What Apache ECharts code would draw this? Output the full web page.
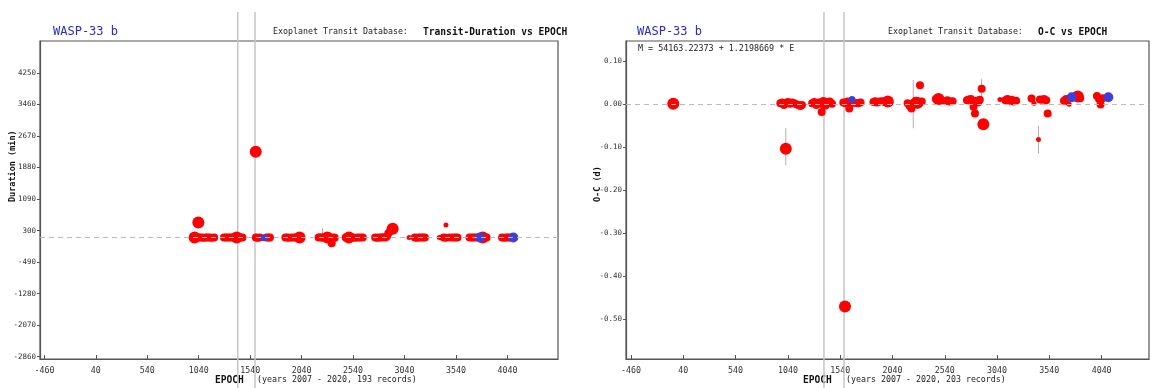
<!DOCTYPE html>
<html><head><meta charset="utf-8">
<script src="https://cdn.jsdelivr.net/npm/echarts@6/dist/echarts.min.js"></script>
<style>html,body{margin:0;padding:0;background:#fff}#c{width:1154px;height:388px}</style>
</head><body><div id="c"></div>
<script>
// ---------- tick labels ----------
const xTicks = [-460, 40, 540, 1040, 1540, 2040, 2540, 3040, 3540, 4040];
const durTicks = [-2860, -2070, -1280, -490, 300, 1090, 1880, 2670, 3460, 4250];
const ocTicks = [-0.5, -0.4, -0.3, -0.2, -0.1, 0.0, 0.1];

// ---------- Transit duration (min) vs epoch ----------
const durNormal = [
 [985,125],[1005,122],[1025,128],[1045,124],[1065,126],[1085,122],[1105,127],[1125,124],[1145,126],[1165,122],[1190,125],
 [1285,127],[1305,123],[1325,128],[1345,124],[1365,126],[1385,121],[1425,128],[1445,123],[1465,126],
 [1595,126],[1612,122],[1632,128],[1700,124],[1718,127],[1732,123],
 [1882,125],[1900,128],[1920,122],[1945,126],[1970,124],[2010,122],[2035,126],
 [2205,124],[2222,130],[2240,121],[2262,127],[2280,133],[2300,118],[2318,100],[2325,55],[2332,-17],[2350,125],[2362,118],
 [2468,128],[2488,124],[2510,131],[2535,125],[2560,122],[2585,127],[2610,124],[2635,126],
 [2755,126],[2775,122],[2795,128],[2815,124],[2835,130],[2855,126],[2870,160],[2883,232],[2900,285],
 [3140,125],[3160,122],[3180,128],[3200,124],[3220,127],[3238,123],
 [3420,126],[3440,122],[3480,128],[3510,124],[3535,127],[3555,123],
 [3672,126],[3692,123],[3712,128],[3732,124],[3755,126],[3825,124],[3838,127],
 [3988,125],[4008,122],[4028,127],[4048,124],[4068,126],[4085,123]
];
const durLarge = [[1000,127],[1036,500],[1409,126],[1594,2275],[2020,125],[2290,126],[2500,128],[2925,345],[3800,125]];
const durSmall = [[3085,125],[3378,125],[3443,442]];
const durBlueSmall = [[1675,118]];
const durBlueLarge = [[3774,126],[4098,126]];
const durErr = [[2243,125,360]];
const durRef = 125;
const durMarkers = [1419, 1587];

// ---------- O-C (d) vs epoch ----------
const ocNormal = [
 [968,0.002],[985,0.004],[1002,-0.002],[1020,0.003],[1040,0.005],[1060,0.001],[1080,0.004],[1100,0.002],[1120,0.000],[1140,-0.002],[1160,-0.004],[1175,-0.002],
 [1272,0.002],[1292,0.005],[1312,-0.002],[1332,0.004],[1363,-0.018],[1380,0.006],[1400,-0.003],[1420,0.002],[1440,0.006],[1462,0.001],
 [1570,0.004],[1590,0.002],[1610,0.006],[1627,-0.010],[1640,0.001],[1690,0.003],[1712,0.002],[1735,0.004],
 [1858,0.005],[1875,0.007],[1895,0.004],[1915,0.006],[1940,0.007],[1965,0.005],[1990,0.006],[2010,0.004],
 [2185,0.002],[2205,-0.004],[2222,-0.010],[2245,0.004],[2262,0.008],[2303,0.044],[2320,0.006],
 [2455,0.012],[2475,0.010],[2495,0.011],[2515,0.008],[2540,0.007],[2565,0.009],[2590,0.006],[2615,0.007],
 [2752,0.009],[2770,0.011],[2790,0.012],[2810,0.006],[2829,-0.022],[2815,-0.006],[2840,0.008],[2860,0.004],[2875,0.010],[2893,0.036],
 [3120,0.009],[3140,0.012],[3160,0.008],[3180,0.010],[3200,0.006],[3222,0.008],
 [3370,0.013],[3450,0.011],[3470,0.010],[3490,0.012],[3510,0.009],[3524,-0.022],
 [3680,0.008],[3700,0.012],[3800,0.020],[3820,0.018],[3835,0.014],
 [3995,0.019],[4015,0.012],[4030,-0.001],[4050,0.014]
];
const ocLarge = [[-56,0.001],[1020,-0.104],[1380,0.003],[1586,-0.471],[1995,0.006],[2280,0.003],[2480,0.012],[2909,-0.047],[3812,0.018]];
const ocSmall = [[3068,0.011],[3393,0.002],[3436,-0.082],[3730,0.000],[3715,0.003]];
const ocBlueSmall = [[1653,0.011]];
const ocBlueLarge = [[3754,0.016],[4104,0.016]];
const ocErr = [[1020,-0.142,-0.056],[2239,-0.056,0.056],[2891,0.015,0.058],[3436,-0.115,-0.05]];
const ocRef = 0;
const ocMarkers = [1385, 1577];

// ---------- chart ----------
const MONO = '"DejaVu Sans Mono", "Liberation Mono", monospace';
const RED = '#ff0000', BLUE = '#3f3fd8';

function xAxisDef(gi, min, max) {
  return {
    type: 'value', gridIndex: gi, min: min, max: max,
    axisLine: {show: true, onZero: false, lineStyle: {color: '#555', width: 1.2}},
    axisTick: {show: true, inside: true, length: 4, customValues: xTicks, lineStyle: {color: '#555'}},
    axisLabel: {customValues: xTicks, margin: 8, fontFamily: MONO, fontSize: 8.3, color: '#333', formatter: v => String(v)},
    splitLine: {show: false}
  };
}
function yAxisDef(gi, min, max, ticks, fmt) {
  return {
    type: 'value', gridIndex: gi, min: min, max: max,
    axisLine: {show: true, onZero: false, lineStyle: {color: '#555', width: 1.2}},
    axisTick: {show: true, inside: false, length: 3, customValues: ticks, lineStyle: {color: '#555'}},
    axisLabel: {customValues: ticks, margin: 4, fontFamily: MONO, fontSize: 7.5, color: '#333', formatter: fmt},
    splitLine: {show: false}
  };
}
function scat(gi, data, color, size, z) {
  return {type: 'scatter', xAxisIndex: gi, yAxisIndex: gi, data: data, symbolSize: size,
    itemStyle: {color: color, opacity: 1}, z: z, silent: true, animation: false};
}
function vlines(gi, data) {
  return {type: 'custom', xAxisIndex: gi, yAxisIndex: gi, clip: false, z: 1, silent: true, animation: false,
    data: data.map(v => [v, 0]),
    renderItem: function (params, api) {
      const x = api.coord([api.value(0), api.value(1)])[0];
      return {type: 'line', shape: {x1: x, y1: 12, x2: x, y2: 388}, style: {stroke: '#c6c6c6', lineWidth: 1.5}};
    }};
}
function errs(gi, data) {
  return {type: 'custom', xAxisIndex: gi, yAxisIndex: gi, z: 2, silent: true, animation: false,
    data: data, encode: {x: 0, y: [1, 2]},
    renderItem: function (params, api) {
      const a = api.coord([api.value(0), api.value(1)]);
      const b = api.coord([api.value(0), api.value(2)]);
      return {type: 'line', shape: {x1: a[0], y1: a[1], x2: b[0], y2: b[1]}, style: {stroke: '#b0b0b0', lineWidth: 1}};
    }};
}
function refLine(gi, y) {
  return {type: 'line', xAxisIndex: gi, yAxisIndex: gi, data: [], silent: true, animation: false, z: 2,
    markLine: {silent: true, symbol: 'none', animation: false, label: {show: false},
      lineStyle: {color: '#bbbbbb', type: [5, 4], width: 1}, data: [{yAxis: y}]}};
}

const chart = echarts.init(document.getElementById('c'), null, {renderer: 'canvas'});
chart.setOption({
  animation: false,
  backgroundColor: '#fff',
  grid: [
    {left: 40, top: 41, width: 518, height: 318, show: true, borderColor: '#555', borderWidth: 1.2, backgroundColor: 'transparent'},
    {left: 626, top: 41, width: 523, height: 318, show: true, borderColor: '#555', borderWidth: 1.2, backgroundColor: 'transparent'}
  ],
  xAxis: [xAxisDef(0, -503, 4532), xAxisDef(1, -508, 4493)],
  yAxis: [
    yAxisDef(0, -2918, 5049, durTicks, v => String(v)),
    yAxisDef(1, -0.593, 0.147, ocTicks, v => v.toFixed(2))
  ],
  series: [
    vlines(0, durMarkers), refLine(0, durRef), errs(0, durErr),
    scat(0, durNormal, RED, 8, 3), scat(0, durLarge, RED, 12, 3), scat(0, durSmall, RED, 5, 3),
    scat(0, durBlueSmall, BLUE, 7, 4), scat(0, durBlueLarge, BLUE, 10, 4),
    vlines(1, ocMarkers), refLine(1, ocRef), errs(1, ocErr),
    scat(1, ocNormal, RED, 8, 3), scat(1, ocLarge, RED, 12, 3), scat(1, ocSmall, RED, 5, 3),
    scat(1, ocBlueSmall, BLUE, 7, 4), scat(1, ocBlueLarge, BLUE, 10, 4)
  ],
  graphic: [
    {type: 'text', left: 53, top: 26, style: {text: 'WASP-33 b', font: '12px ' + MONO, fill: '#2a2ad0'}},
    {type: 'text', left: 273, top: 28, style: {text: 'Exoplanet Transit Database:', font: '8.3px ' + MONO, fill: '#222'}},
    {type: 'text', left: 423, top: 27, style: {text: 'Transit-Duration vs EPOCH', font: 'bold 9.6px ' + MONO, fill: '#111'}},
    {type: 'text', left: 637, top: 26, style: {text: 'WASP-33 b', font: '12px ' + MONO, fill: '#2a2ad0'}},
    {type: 'text', left: 888, top: 28, style: {text: 'Exoplanet Transit Database:', font: '8.3px ' + MONO, fill: '#222'}},
    {type: 'text', left: 1038, top: 27, style: {text: 'O-C vs EPOCH', font: 'bold 9.6px ' + MONO, fill: '#111'}},
    {type: 'text', left: 638, top: 45, style: {text: 'M = 54163.22373 + 1.2198669 * E', font: '8.4px ' + MONO, fill: '#222'}},
    {type: 'text', left: 215, top: 375, style: {text: 'EPOCH', font: 'bold 9.6px ' + MONO, fill: '#111'}},
    {type: 'text', left: 257, top: 376, style: {text: '(years 2007 - 2020, 193 records)', font: '8.3px ' + MONO, fill: '#222'}},
    {type: 'text', left: 803, top: 375, style: {text: 'EPOCH', font: 'bold 9.6px ' + MONO, fill: '#111'}},
    {type: 'text', left: 846, top: 376, style: {text: '(years 2007 - 2020, 203 records)', font: '8.3px ' + MONO, fill: '#222'}},
    {type: 'text', x: 13, y: 202, rotation: Math.PI / 2,
      style: {text: 'Duration (min)', font: 'bold 8.5px ' + MONO, fill: '#111', textAlign: 'left', textVerticalAlign: 'middle'}},
    {type: 'text', x: 598, y: 202, rotation: Math.PI / 2,
      style: {text: 'O-C (d)', font: 'bold 8.5px ' + MONO, fill: '#111', textAlign: 'left', textVerticalAlign: 'middle'}}
  ]
});
</script>
</body></html>
